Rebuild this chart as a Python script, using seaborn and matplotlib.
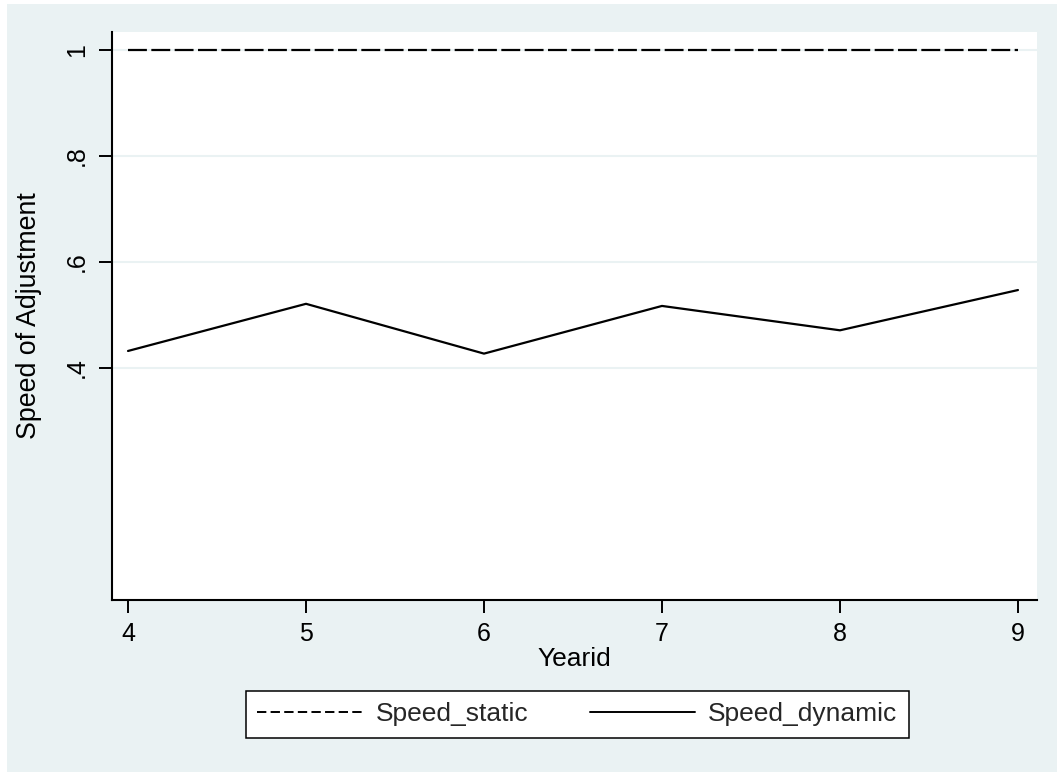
import pandas as pd
import matplotlib
matplotlib.use('Agg')
import matplotlib.pyplot as plt
import seaborn as sns
from matplotlib.patches import Rectangle

# Data
yearid = [4, 5, 6, 7, 8, 9]
speed_static = [1, 1, 1, 1, 1, 1]
speed_dynamic = [0.432, 0.521, 0.427, 0.517, 0.471, 0.547]
y_ticks = [0.4, 0.6, 0.8, 1.0]
y_tick_labels = ['.4', '.6', '.8', '1']

bg = '#EAF2F3'

sns.set_theme(style='white')
plt.rcParams['font.family'] = ['Liberation Sans', 'DejaVu Sans']

df = pd.DataFrame({
    'Yearid': yearid * 2,
    'value': speed_static + speed_dynamic,
    'series': ['Speed_static'] * len(yearid) + ['Speed_dynamic'] * len(yearid),
})

fig = plt.figure(figsize=(10.57, 7.72), dpi=100)
fig.patch.set_facecolor('white')
fig.patches.append(Rectangle((7 / 1057, 0), 1, 1 - 4 / 772, transform=fig.transFigure,
                             facecolor=bg, edgecolor='none', zorder=-10))

ax = fig.add_axes([112 / 1057, 1 - 600 / 772, 925 / 1057, 568 / 772])
ax.set_facecolor('white')

sns.lineplot(data=df, x='Yearid', y='value', style='series',
             dashes={'Speed_static': (8.5, 2), 'Speed_dynamic': ''},
             color='black', linewidth=1.6, ax=ax, legend=False)

ax.set_xlim(3.91, 9.107)
ax.set_ylim(-0.038, 1.034)
ax.set_xticks(yearid)
ax.set_yticks(y_ticks)
ax.set_yticklabels(y_tick_labels, rotation=90, va='center')

for yv in y_ticks:
    ax.axhline(yv, color=bg, linewidth=1.5, zorder=0)

for side in ['top', 'right']:
    ax.spines[side].set_visible(False)
for side in ['left', 'bottom']:
    ax.spines[side].set_color('black')
    ax.spines[side].set_linewidth(1.5)

ax.tick_params(axis='both', which='major', direction='out', length=9.5, width=1.4,
               color='black', labelsize=18, labelcolor='black', bottom=True, left=True)
ax.tick_params(axis='x', pad=6)
ax.tick_params(axis='y', pad=7)

ax.set_xlabel('Yearid', fontsize=19, color='black')
ax.set_ylabel('Speed of Adjustment', fontsize=19.3, color='black')
ax.xaxis.set_label_coords(0.5, -0.083)
ax.yaxis.set_label_coords(-0.076, 0.5)

handles = [
    plt.Line2D([], [], color='black', linewidth=1.4, linestyle=(0, (4.8, 2.2))),
    plt.Line2D([], [], color='black', linewidth=1.4),
]
leg = fig.legend(handles, ['Speed_static', 'Speed_dynamic'], ncol=2,
                 loc='center', bbox_to_anchor=(577.5 / 1057, 1 - 714.5 / 772),
                 fontsize=19, frameon=True, fancybox=False, handlelength=4.0,
                 columnspacing=2.3, handletextpad=0.5, borderpad=0.42,
                 borderaxespad=0)
leg.get_frame().set_edgecolor('black')
leg.get_frame().set_linewidth(1.1)
leg.get_frame().set_facecolor('white')
leg.get_frame().set_alpha(1)

fig.savefig('out.png', dpi=100, facecolor=fig.get_facecolor())
